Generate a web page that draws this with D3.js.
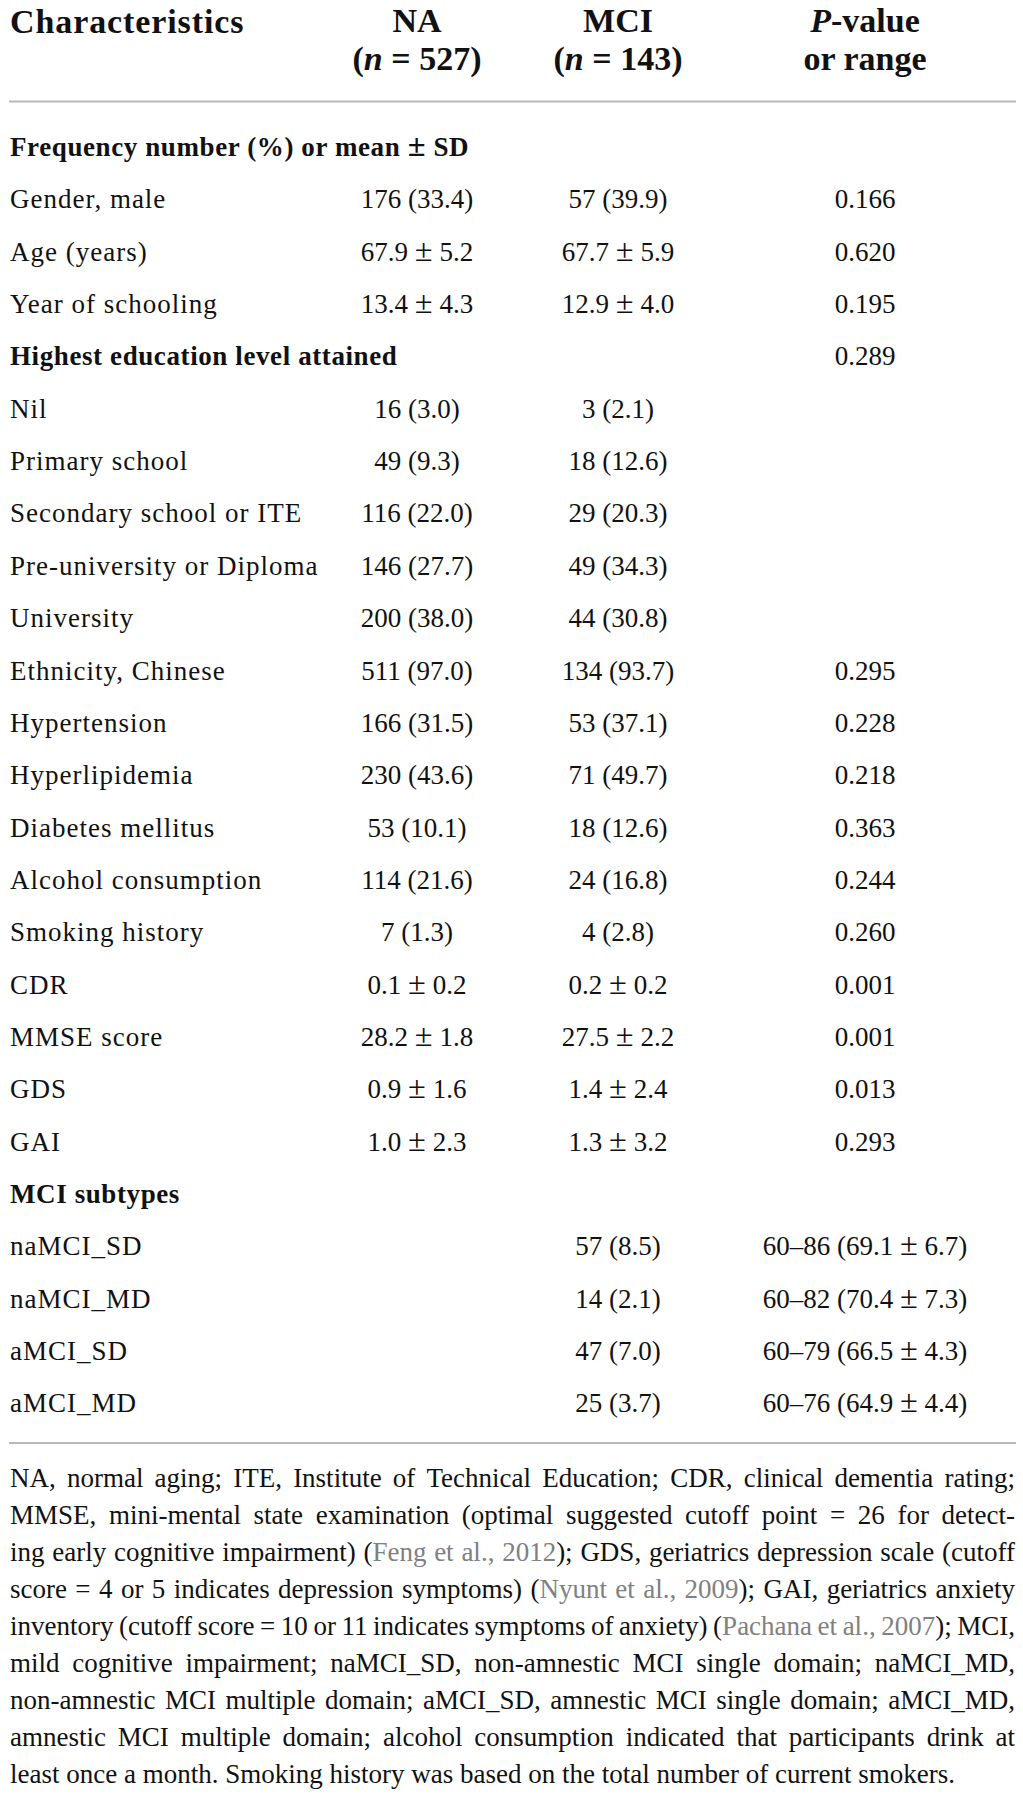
<!DOCTYPE html>
<html>
<head>
<meta charset="utf-8">
<script src="https://cdn.jsdelivr.net/npm/d3@7"></script>
<style>
  body { margin: 0; background: #fff; }
  text { font-family: "Liberation Serif", "Times New Roman", serif; fill: #111; }
</style>
</head>
<body>
<div id="table"></div>
<script>
// table content, one entry per row
const rowLabels = [
  "Frequency number (%) or mean ± SD",
  "Gender, male", "Age (years)", "Year of schooling",
  "Highest education level attained",
  "Nil", "Primary school", "Secondary school or ITE", "Pre-university or Diploma", "University",
  "Ethnicity, Chinese", "Hypertension", "Hyperlipidemia", "Diabetes mellitus",
  "Alcohol consumption", "Smoking history", "CDR", "MMSE score", "GDS", "GAI",
  "MCI subtypes",
  "naMCI_SD", "naMCI_MD", "aMCI_SD", "aMCI_MD"
];
const sectionRows = ["Frequency number (%) or mean ± SD", "Highest education level attained", "MCI subtypes"];
const naValues = [
  "", "176 (33.4)", "67.9 ± 5.2", "13.4 ± 4.3", "",
  "16 (3.0)", "49 (9.3)", "116 (22.0)", "146 (27.7)", "200 (38.0)",
  "511 (97.0)", "166 (31.5)", "230 (43.6)", "53 (10.1)", "114 (21.6)", "7 (1.3)",
  "0.1 ± 0.2", "28.2 ± 1.8", "0.9 ± 1.6", "1.0 ± 2.3",
  "", "", "", "", ""
];
const mciValues = [
  "", "57 (39.9)", "67.7 ± 5.9", "12.9 ± 4.0", "",
  "3 (2.1)", "18 (12.6)", "29 (20.3)", "49 (34.3)", "44 (30.8)",
  "134 (93.7)", "53 (37.1)", "71 (49.7)", "18 (12.6)", "24 (16.8)", "4 (2.8)",
  "0.2 ± 0.2", "27.5 ± 2.2", "1.4 ± 2.4", "1.3 ± 3.2",
  "", "57 (8.5)", "14 (2.1)", "47 (7.0)", "25 (3.7)"
];
const pValues = [
  "", "0.166", "0.620", "0.195", "0.289",
  "", "", "", "", "",
  "0.295", "0.228", "0.218", "0.363", "0.244", "0.260",
  "0.001", "0.001", "0.013", "0.293",
  "", "60–86 (69.1 ± 6.7)", "60–82 (70.4 ± 7.3)", "60–79 (66.5 ± 4.3)", "60–76 (64.9 ± 4.4)"
];
const columnKeys = ["na", "mci", "p"];
// header cells, each part is [text, italic]
const columnHeads = [
  { top: [["NA", false]], bottom: [["(", false], ["n", true], [" = 527)", false]] },
  { top: [["MCI", false]], bottom: [["(", false], ["n", true], [" = 143)", false]] },
  { top: [["P", true], ["-value", false]], bottom: [["or range", false]] }
];
// {...} marks the grey citation text
const footnoteLines = [
  "NA, normal aging; ITE, Institute of Technical Education; CDR, clinical dementia rating;",
  "MMSE, mini-mental state examination (optimal suggested cutoff point = 26 for detect-",
  "ing early cognitive impairment) ({Feng et al., 2012}); GDS, geriatrics depression scale (cutoff",
  "score = 4 or 5 indicates depression symptoms) ({Nyunt et al., 2009}); GAI, geriatrics anxiety",
  "inventory (cutoff score = 10 or 11 indicates symptoms of anxiety) ({Pachana et al., 2007}); MCI,",
  "mild cognitive impairment; naMCI_SD, non-amnestic MCI single domain; naMCI_MD,",
  "non-amnestic MCI multiple domain; aMCI_SD, amnestic MCI single domain; aMCI_MD,",
  "amnestic MCI multiple domain; alcohol consumption indicated that participants drink at",
  "least once a month. Smoking history was based on the total number of current smokers."
];

const width = 1023;
const height = 1795;
const left = 10;
const right = 1015;
const bodySize = 27;
const headSize = 34;
const noteSize = 27;
const citeColor = "#808080";
const ruleColor = "#b8b8b8";

const svg = d3.select("#table").append("svg")
  .attr("width", width).attr("height", height);

const x = d3.scaleOrdinal(columnKeys, [417, 618, 865]);
const y = d3.scalePoint(d3.range(rowLabels.length), [156, 1412.4]);

// header
const head = svg.append("g").attr("font-weight", "bold").attr("font-size", headSize);
head.append("text").attr("x", left).attr("y", 33)
  .attr("letter-spacing", 0.9).text("Characteristics");
columnKeys.forEach((k, i) => {
  [["top", 32], ["bottom", 70]].forEach(([part, yy]) => {
    const t = head.append("text").attr("x", x(k)).attr("y", yy).attr("text-anchor", "middle");
    t.selectAll("tspan").data(columnHeads[i][part]).join("tspan")
      .attr("font-style", d => d[1] ? "italic" : null)
      .text(d => d[0]);
  });
});

// rules
svg.selectAll("line.rule").data([101.5, 1443]).join("line")
  .attr("class", "rule")
  .attr("x1", left - 1).attr("x2", right + 1)
  .attr("y1", d => d).attr("y2", d => d)
  .attr("stroke", ruleColor).attr("stroke-width", 2);

// the ± glyph is drawn a bit larger, as in the source typeface
function fillCell(sel, str) {
  sel.selectAll("tspan").data(str.split(/(±)/).filter(s => s !== "")).join("tspan")
    .attr("font-size", s => s === "±" ? "1.2em" : null)
    .text(s => s);
}

// body rows
const rows = svg.append("g").attr("font-size", bodySize)
  .selectAll("g").data(rowLabels).join("g")
  .attr("transform", (d, i) => `translate(0,${y(i)})`);

rows.append("text")
  .attr("x", left)
  .attr("font-weight", d => sectionRows.includes(d) ? "bold" : null)
  .attr("letter-spacing", d => sectionRows.includes(d) ? 0.6 : 1)
  .each(function (d) { fillCell(d3.select(this), d); });

const columnValues = { na: naValues, mci: mciValues, p: pValues };
columnKeys.forEach(k => {
  rows.append("text")
    .attr("x", x(k))
    .attr("text-anchor", "middle")
    .each(function (d, i) { fillCell(d3.select(this), columnValues[k][i]); });
});

// footnote, justified by spreading the word gaps
const noteY = d3.scalePoint(d3.range(footnoteLines.length), [1487, 1783]);
const note = svg.append("g").attr("font-size", noteSize);

function splitWords(line) {
  const words = [];
  let cur = [], seg = "", grey = false;
  const flush = () => { if (seg) cur.push([seg, grey]); seg = ""; };
  for (const ch of line) {
    if (ch === "{" || ch === "}") { flush(); grey = ch === "{"; }
    else if (ch === " ") { flush(); if (cur.length) words.push(cur); cur = []; }
    else seg += ch;
  }
  flush();
  if (cur.length) words.push(cur);
  return words;
}

const probe = note.append("text").attr("x", 0).attr("y", -100);
const spaceW = probe.text("x x").node().getComputedTextLength() - probe.text("xx").node().getComputedTextLength();
probe.remove();

footnoteLines.forEach((line, li) => {
  const words = splitWords(line);
  const texts = words.map(w => {
    const t = note.append("text").attr("y", noteY(li));
    t.selectAll("tspan").data(w).join("tspan")
      .attr("fill", d => d[1] ? citeColor : null)
      .text(d => d[0]);
    return t;
  });
  const widths = texts.map(t => t.node().getComputedTextLength());
  const total = d3.sum(widths);
  const last = li === footnoteLines.length - 1;
  const gap = last ? spaceW : (right - left - total) / (words.length - 1);
  let cx = left;
  texts.forEach((t, i) => {
    t.attr("x", cx);
    cx += widths[i] + gap;
  });
});
</script>
</body>
</html>
